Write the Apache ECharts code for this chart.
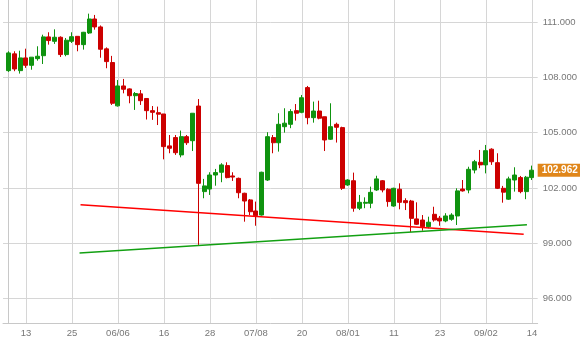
<!DOCTYPE html>
<html>
<head>
<meta charset="utf-8">
<script src="https://cdn.jsdelivr.net/npm/echarts@6/dist/echarts.min.js"></script>
<style>html,body{margin:0;padding:0;background:#fff}#c{width:580px;height:344px}</style>
</head>
<body>
<div id="c"></div>
<script>
// x-axis tick labels (every 8th candle, starting at candle 3)
var tickLabels = ['13','25','06/06','16','28','07/08','20','08/01','11','23','09/02','14'];
var yTicks = [96, 99, 102, 105, 108, 111];

var opens = [108.36,109.27,108.36,109.05,108.65,109.01,109.17,110.19,109.95,110.17,
  109.23,109.95,110.22,109.77,110.40,111.16,110.73,109.54,108.80,106.45,
  107.53,107.37,107.00,107.10,106.85,106.19,106.08,106.01,104.28,104.73,
  103.79,104.78,104.56,106.44,101.80,101.94,102.70,102.85,103.21,102.65,
  102.52,101.71,101.35,100.75,100.53,102.43,104.73,104.45,105.32,105.45,
  106.19,106.10,107.44,105.81,106.17,105.86,104.64,105.45,105.27,102.16,
  102.39,100.90,101.17,101.17,101.89,102.39,101.93,101.02,101.93,101.31,
  101.29,100.32,100.26,99.90,100.57,100.36,100.21,100.30,100.48,101.94,
  101.89,102.97,103.39,103.25,104.10,103.37,101.98,101.39,102.43,102.56,
  101.80,102.56];
var closes = [109.32,108.45,109.05,108.65,109.09,109.14,110.19,109.99,110.17,109.23,
  110.01,110.20,109.77,110.44,111.16,110.73,109.52,108.85,106.59,107.53,
  107.35,107.00,107.12,106.73,106.19,106.10,106.00,104.24,104.15,103.91,
  104.78,104.45,106.05,102.25,102.11,102.70,102.83,103.25,102.56,102.59,
  101.74,101.29,100.71,100.50,102.85,104.78,104.45,105.45,105.51,106.14,
  106.05,106.89,105.81,106.17,105.78,104.60,105.32,105.29,101.98,102.43,
  100.90,101.22,101.22,101.76,102.49,101.89,101.26,101.98,101.22,101.20,
  100.35,100.03,99.90,100.14,100.26,100.21,100.48,100.53,101.84,101.84,
  103.01,103.42,103.25,104.02,103.42,101.98,101.77,102.49,102.70,101.80,
  102.58,102.962];
var highs = [109.41,109.41,109.44,109.55,109.09,109.68,110.31,110.44,110.60,110.22,
  110.13,110.44,110.22,110.46,111.45,111.38,110.81,109.62,109.16,107.85,
  107.91,107.40,107.20,107.31,106.86,106.44,106.41,106.01,104.87,104.87,
  105.11,104.87,106.05,106.82,102.49,102.85,103.03,103.34,103.39,102.85,
  102.56,101.74,101.40,101.26,102.88,105.02,104.87,106.05,106.32,106.27,
  106.55,107.04,107.53,106.68,106.73,105.86,106.59,105.54,105.32,102.47,
  102.83,101.62,101.49,102.07,102.66,102.43,101.98,102.01,102.25,101.44,
  101.35,101.22,100.53,100.44,100.98,100.48,100.63,100.63,101.98,102.43,
  103.15,103.52,104.06,104.33,104.15,103.88,102.11,102.61,103.12,102.65,
  102.65,103.21];
var lows = [108.29,108.33,108.20,108.51,108.41,108.90,108.72,109.77,109.81,109.10,
  109.14,109.86,109.41,109.50,110.35,110.58,109.06,108.49,106.50,106.41,
  107.13,106.59,106.23,106.50,105.71,105.69,105.41,103.55,103.88,103.79,
  103.66,104.33,104.00,98.91,101.44,101.62,102.12,102.31,102.52,102.38,
  101.44,100.17,100.53,99.95,100.50,102.38,103.88,103.97,105.00,105.24,
  105.65,106.05,105.45,105.54,105.72,104.00,104.60,104.46,101.89,102.11,
  100.71,100.80,100.90,100.90,101.84,101.76,100.98,100.98,100.84,100.80,
  99.61,99.99,99.68,99.81,100.17,99.95,100.14,100.22,99.99,101.80,
  101.71,102.79,103.07,102.79,103.25,101.94,101.20,101.35,101.80,101.71,
  101.39,102.43];

// trend lines: [candle index (fractional), price]
var redTrend = [[12.48, 101.09], [89.57, 99.49]];
var greenTrend = [[12.31, 98.47], [90.13, 100.01]];

var N = opens.length;
var firstLabel = 3, labelStep = 8;
// categories with one empty pad slot on each side
var cats = [];
for (var k = 0; k < N + 2; k++) cats.push('c' + k);
function labelFor(k) {
  var j = k - 1;
  if (j >= firstLabel && (j - firstLabel) % labelStep === 0) {
    return tickLabels[(j - firstLabel) / labelStep] || '';
  }
  return '';
}
var candleData = [];
for (var j = 0; j < N; j++) {
  candleData.push([j + 1, opens[j], closes[j], lows[j], highs[j]]);
}
var lastClose = closes[N - 1];

var UP = '#0f930f', DOWN = '#cc0000', GRID = '#d6d6d6', TXT = '#777';
var FONT = 'Liberation Sans';

var chart = echarts.init(document.getElementById('c'), null, {renderer: 'canvas'});
chart.setOption({
  animation: false,
  backgroundColor: '#fff',
  grid: {left: -1.3, right: 39, top: 0, bottom: 20.7, containLabel: false},
  xAxis: [{
    type: 'category',
    data: cats,
    boundaryGap: false,
    axisLine: {show: true, lineStyle: {color: '#c8c8c8', width: 1}},
    axisTick: {show: false},
    axisLabel: {
      interval: 0,
      formatter: function (v, idx) { return labelFor(idx); },
      color: TXT, fontSize: 9.5, fontFamily: FONT, margin: 5
    },
    splitLine: {
      show: true,
      interval: function (idx) { return labelFor(idx) !== ''; },
      lineStyle: {color: GRID, width: 1}
    }
  }, {
    type: 'value', min: -1, max: N, show: false
  }],
  yAxis: {
    type: 'value',
    position: 'right',
    min: 94.66, max: 112.19,
    scale: true,
    axisLine: {show: true, lineStyle: {color: '#c8c8c8', width: 1}},
    axisTick: {show: false, customValues: yTicks},
    axisLabel: {
      customValues: yTicks,
      formatter: function (v) { return v.toFixed(3); },
      color: TXT, fontSize: 9.5, fontFamily: FONT, margin: 5
    },
    splitLine: {show: true, lineStyle: {color: GRID, width: 1}}
  },
  series: [{
    type: 'candlestick',
    xAxisIndex: 0,
    data: candleData,
    encode: {x: 0, y: [1, 2, 3, 4]},
    barWidth: 4.5,
    itemStyle: {color: UP, color0: DOWN, borderColor: UP, borderColor0: DOWN, borderWidth: 1}
  }, {
    type: 'line', xAxisIndex: 1, data: redTrend, symbol: 'none',
    lineStyle: {color: '#ff0000', width: 1.5}, silent: true
  }, {
    type: 'line', xAxisIndex: 1, data: greenTrend, symbol: 'none',
    lineStyle: {color: '#12a012', width: 1.5}, silent: true,
    markLine: {
      silent: true,
      symbol: ['none', 'none'],
      animation: false,
      data: [{yAxis: lastClose}],
      lineStyle: {color: 'rgba(255,255,255,0)', width: 1, type: 'solid'},
      label: {
        show: true, position: 'end', distance: 0,
        formatter: function () { return lastClose.toFixed(3); },
        backgroundColor: '#e0861a', color: '#ffffff', fontWeight: 'bold',
        fontSize: 10, fontFamily: FONT, padding: [2, 4, 1, 4]
      }
    }
  }]
});
</script>
</body>
</html>
